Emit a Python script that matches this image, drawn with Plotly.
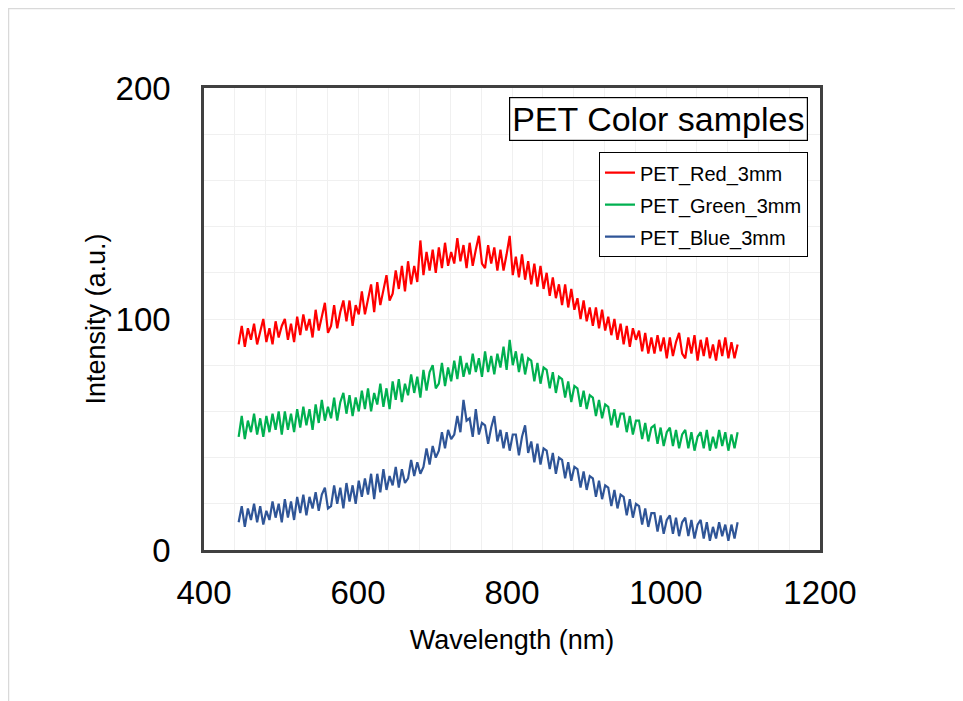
import plotly.graph_objects as go

# wavelength grid (nm)
wavelength = list(range(445, 1094, 4))

red_3mm = [
    89, 97, 88, 96, 91,
    98, 89, 95, 100, 90,
    96, 89, 99, 92, 97,
    100, 91, 98, 90, 101,
    93, 102, 95, 100, 92,
    104, 95, 101, 107, 94,
    97, 106, 96, 103, 108,
    99, 108, 97, 106, 102,
    112, 102, 109, 115, 103,
    116, 106, 113, 119, 108,
    111, 121, 113, 123, 112,
    125, 115, 123, 116, 134,
    119, 129, 121, 130, 120,
    131, 122, 133, 123, 129,
    124, 135, 125, 132, 122,
    133, 123, 130, 136, 124,
    122, 132, 124, 131, 121,
    130, 121, 128, 136, 119,
    127, 118, 128, 117, 125,
    115, 124, 114, 123, 113,
    120, 110, 118, 109, 115,
    106, 115, 105, 113, 104,
    109, 100, 108, 99, 105,
    97, 105, 96, 104, 95,
    101, 93, 100, 91, 98,
    89, 97, 88, 96, 91,
    95, 86, 94, 85, 92,
    85, 93, 86, 92, 83,
    92, 84, 90, 94, 85,
    83, 92, 85, 93, 82,
    91, 84, 92, 83, 89,
    82, 91, 84, 92, 83,
    90, 83, 89,
]

green_3mm = [
    49, 58, 48, 56, 51,
    59, 50, 57, 49, 58,
    51, 59, 52, 60, 50,
    60, 52, 59, 51, 61,
    53, 62, 54, 61, 52,
    63, 55, 65, 56, 62,
    57, 66, 56, 64, 68,
    59, 67, 58, 66, 60,
    69, 61, 70, 60, 68,
    63, 72, 62, 70, 61,
    73, 65, 74, 64, 72,
    67, 76, 68, 75, 66,
    78, 69, 77, 80, 70,
    72, 81, 71, 79, 73,
    82, 74, 84, 75, 81,
    76, 85, 77, 83, 75,
    86, 77, 84, 76, 85,
    79, 88, 78, 91, 80,
    86, 77, 85, 76, 83,
    82, 73, 81, 72, 79,
    78, 70, 77, 68, 75,
    74, 66, 73, 64, 71,
    70, 62, 69, 61, 67,
    66, 58, 65, 57, 63,
    62, 54, 61, 53, 59,
    59, 51, 58, 50, 56,
    56, 48, 55, 47, 53,
    54, 46, 53, 45, 51,
    53, 45, 52, 44, 50,
    52, 44, 51, 43, 49,
    51, 44, 52, 43, 49,
    44, 52, 45, 51, 43,
    50, 44, 51,
]

blue_3mm = [
    12, 19, 10, 18, 13,
    20, 12, 19, 11, 17,
    13, 21, 14, 20, 12,
    22, 14, 21, 13, 23,
    16, 24, 15, 23, 18,
    25, 17, 24, 27, 18,
    19, 28, 20, 27, 18,
    29, 21, 28, 20, 30,
    23, 31, 24, 33, 22,
    33, 25, 35, 26, 32,
    28, 36, 27, 35, 29,
    31, 39, 32, 38, 33,
    36, 44, 37, 45, 40,
    43, 51, 44, 52, 48,
    50, 58, 51, 65, 56,
    57, 49, 61, 50, 55,
    54, 46, 53, 58, 47,
    52, 44, 51, 43, 50,
    50, 41, 49, 54, 42,
    47, 38, 46, 37, 44,
    43, 35, 42, 33, 40,
    39, 31, 38, 30, 36,
    35, 27, 34, 26, 32,
    31, 23, 30, 22, 28,
    27, 19, 26, 18, 24,
    23, 15, 22, 14, 20,
    19, 11, 18, 10, 16,
    16, 8, 15, 7, 13,
    15, 7, 14, 6, 12,
    14, 6, 13, 5, 11,
    13, 5, 12, 4, 10,
    5, 12, 6, 11, 4,
    11, 5, 12,
]

series_names = ["PET_Red_3mm", "PET_Green_3mm", "PET_Blue_3mm"]
series_values = [red_3mm, green_3mm, blue_3mm]
series_colors = ["#FF0000", "#00B050", "#2F5597"]

FONT = "Arial, Liberation Sans, sans-serif"

fig = go.Figure()
for name, vals, col in zip(series_names, series_values, series_colors):
    fig.add_trace(go.Scatter(x=wavelength, y=vals, mode="lines", name=name,
                             legendgroup=name,
                             line=dict(color=col, width=2.2)))

axis_common = dict(
    showline=True, mirror=True, linecolor="#404040", linewidth=2.5,
    ticks="", showgrid=True, gridcolor="#F0F0F0", gridwidth=1,
    zeroline=False, tickfont=dict(family=FONT, size=33, color="#000000"),
)

# plot area (figure coords): left 196, right 812, top 80, bottom 542
W, H = 955, 693
L, R, T, B = 196, 812, 80, 542
pw, ph = R - L, B - T

fig.update_layout(
    width=W, height=H,
    margin=dict(l=L, r=W - R, t=T, b=H - B),
    paper_bgcolor="white", plot_bgcolor="white",
    font=dict(family=FONT, color="#000000"),
    xaxis=dict(range=[400, 1200], dtick=200, tick0=400,
               minor=dict(dtick=40, showgrid=True, gridcolor="#F0F0F0"),
               title=dict(text="Wavelength (nm)", font=dict(family=FONT, size=27), standoff=20),
               ticklabelstandoff=12, **axis_common),
    yaxis=dict(range=[0, 200], dtick=100, tick0=0,
               minor=dict(dtick=20, showgrid=True, gridcolor="#F0F0F0"),
               title=dict(text="Intensity (a.u.)", font=dict(family=FONT, size=27), standoff=3),
               ticklabelstandoff=24, **axis_common),
    legend=dict(x=0.9805, y=0.861, xanchor="right", yanchor="top",
                bgcolor="white", bordercolor="#000000", borderwidth=1,
                font=dict(family=FONT, size=20, color="#000000"),
                tracegroupgap=3),
    showlegend=True,
    annotations=[dict(text="PET Color samples", xref="paper", yref="paper",
                      x=0.9805, y=0.9805, xanchor="right", yanchor="top",
                      showarrow=False, font=dict(family=FONT, size=34, color="#000000"),
                      bordercolor="#000000", borderwidth=1.2, borderpad=2,
                      bgcolor="white")],
    shapes=[dict(type="rect", xref="paper", yref="paper",
                 x0=(0.5 - L) / pw, x1=(W + 20 - L) / pw,
                 y0=(B - H - 20) / ph, y1=(B - 0.5) / ph,
                 line=dict(color="#D9D9D9", width=1.5), layer="below")],
)

fig.write_html("out.html")
